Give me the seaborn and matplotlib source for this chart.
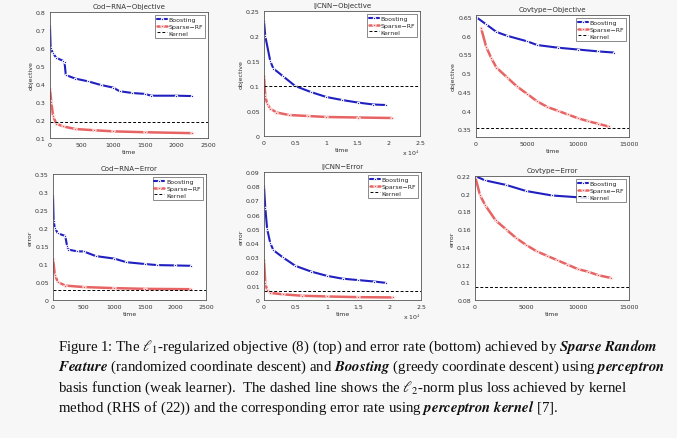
import numpy as np
import pandas as pd
import matplotlib
matplotlib.use("Agg")
import matplotlib.pyplot as plt
import seaborn as sns

sns.set_style("white")
plt.rcParams['font.family'] = ['DejaVu Sans']
plt.rcParams['mathtext.fontset'] = 'stix'

# ---- data ----
cod_obj_boost_t = [0, 10, 50, 100, 200, 230, 250, 400, 600, 800, 1000, 1100, 1300, 1500, 1600, 2000, 2250]
cod_obj_boost_v = [0.72, 0.6, 0.57, 0.545, 0.53, 0.52, 0.45, 0.43, 0.415, 0.395, 0.38, 0.36, 0.35, 0.345, 0.335, 0.335, 0.333]
cod_obj_rf_t = [0, 20, 50, 100, 200, 400, 700, 1000, 1500, 2250]
cod_obj_rf_v = [0.37, 0.3, 0.22, 0.18, 0.165, 0.15, 0.143, 0.137, 0.132, 0.127]
cod_obj_kernel = 0.187

ij_obj_boost_t = [0, 200, 1000, 1500, 3000, 5000, 7500, 10000, 12500, 15000, 17500, 19500]
ij_obj_boost_v = [0.23, 0.2, 0.15, 0.135, 0.12, 0.1, 0.088, 0.078, 0.072, 0.067, 0.063, 0.062]
ij_obj_rf_t = [0, 200, 500, 1000, 2000, 4000, 7000, 10000, 15000, 20500]
ij_obj_rf_v = [0.12, 0.08, 0.065, 0.055, 0.047, 0.042, 0.04, 0.038, 0.037, 0.036]
ij_obj_kernel = 0.1

cov_obj_boost_t = [0, 1000, 2000, 3000, 5000, 6000, 8000, 10000, 12000, 13500]
cov_obj_boost_v = [0.65, 0.63, 0.61, 0.6, 0.585, 0.575, 0.568, 0.563, 0.558, 0.555]
cov_obj_rf_t = [500, 1000, 1500, 2000, 3000, 4000, 5000, 6000, 7000, 8000, 9000, 10000, 11000, 12000, 13000]
cov_obj_rf_v = [0.62, 0.57, 0.54, 0.515, 0.49, 0.465, 0.445, 0.425, 0.41, 0.4, 0.39, 0.38, 0.372, 0.365, 0.358]
cov_obj_kernel = 0.355

cod_err_boost_t = [0, 10, 30, 80, 200, 230, 250, 400, 500, 700, 1000, 1200, 1500, 1700, 2000, 2250]
cod_err_boost_v = [0.29, 0.22, 0.2, 0.185, 0.178, 0.15, 0.14, 0.135, 0.135, 0.122, 0.115, 0.105, 0.1, 0.097, 0.096, 0.095]
cod_err_rf_t = [0, 30, 80, 200, 500, 1000, 1500, 2250]
cod_err_rf_v = [0.115, 0.07, 0.05, 0.04, 0.036, 0.033, 0.031, 0.03]
cod_err_kernel = 0.027

ij_err_boost_t = [0, 200, 500, 1000, 1500, 3000, 5000, 7500, 10000, 12500, 15000, 17500, 19500]
ij_err_boost_v = [0.08, 0.065, 0.05, 0.04, 0.035, 0.03, 0.024, 0.02, 0.017, 0.015, 0.014, 0.013, 0.012]
ij_err_rf_t = [0, 200, 500, 1000, 3000, 6000, 10000, 15000, 20500]
ij_err_rf_v = [0.028, 0.012, 0.007, 0.005, 0.004, 0.003, 0.0025, 0.002, 0.0018]
ij_err_kernel = 0.0065

cov_err_boost_t = [0, 1000, 3000, 5000, 7500, 10000, 11000]
cov_err_boost_v = [0.22, 0.215, 0.21, 0.203, 0.198, 0.196, 0.195]
cov_err_rf_t = [0, 500, 1000, 2000, 3000, 4000, 5000, 6000, 7000, 8000, 9000, 10000, 11000, 12000, 13200]
cov_err_rf_v = [0.22, 0.198, 0.187, 0.17, 0.16, 0.15, 0.142, 0.135, 0.13, 0.125, 0.12, 0.115, 0.112, 0.108, 0.105]
cov_err_kernel = 0.095

W, H = 677, 439
fig = plt.figure(figsize=(W / 100, H / 100), dpi=100, facecolor="#f7f7f7")

def box(x0, y0, x1, y1):
    return [x0 / W, 1 - y1 / H, (x1 - x0) / W, (y1 - y0) / H]

panels = [
    (box(50, 13, 208, 139), "Cod\u2212RNA\u2212Objective", "objective",
     cod_obj_boost_t, cod_obj_boost_v, cod_obj_rf_t, cod_obj_rf_v, cod_obj_kernel,
     (0, 2500), (0.1, 0.8), np.arange(0, 2501, 500), np.arange(0.1, 0.81, 0.1), False),
    (box(264, 12, 420, 137), "IJCNN\u2212Objective", "objective",
     ij_obj_boost_t, ij_obj_boost_v, ij_obj_rf_t, ij_obj_rf_v, ij_obj_kernel,
     (0, 25000), (0, 0.25), np.arange(0, 25001, 5000), np.arange(0, 0.251, 0.05), True),
    (box(476, 16, 629, 138), "Covtype\u2212Objective", "objective",
     cov_obj_boost_t, cov_obj_boost_v, cov_obj_rf_t, cov_obj_rf_v, cov_obj_kernel,
     (0, 15000), (0.33, 0.655), np.arange(0, 15001, 5000), np.arange(0.35, 0.651, 0.05), False),
    (box(53, 175, 206, 301), "Cod\u2212RNA\u2212Error", "error",
     cod_err_boost_t, cod_err_boost_v, cod_err_rf_t, cod_err_rf_v, cod_err_kernel,
     (0, 2500), (0, 0.35), np.arange(0, 2501, 500), np.arange(0, 0.351, 0.05), False),
    (box(264, 173, 421, 301), "IJCNN\u2212Error", "error",
     ij_err_boost_t, ij_err_boost_v, ij_err_rf_t, ij_err_rf_v, ij_err_kernel,
     (0, 25000), (0, 0.09), np.arange(0, 25001, 5000), np.arange(0, 0.091, 0.01), True),
    (box(475, 177, 629, 301), "Covtype\u2212Error", "error",
     cov_err_boost_t, cov_err_boost_v, cov_err_rf_t, cov_err_rf_v, cov_err_kernel,
     (0, 15000), (0.08, 0.22), np.arange(0, 15001, 5000), np.arange(0.08, 0.221, 0.02), False),
]

fs = 4.5
for rect, title, ylab, bt, bv, rt, rv, kern, xl, yl, xt, yt, sci in panels:
    ax = fig.add_axes(rect)
    ax.set_facecolor("white")
    sns.lineplot(x=bt, y=bv, ax=ax, color="#2020c0", marker=".", markersize=3.5,
                 lw=1.5, label="Boosting")
    sns.lineplot(x=rt, y=rv, ax=ax, color="#e03030", marker="*", markersize=3.5,
                 lw=1.8, alpha=0.75, label="Sparse\u2212RF")
    ax.axhline(kern, color="black", ls=(0, (3, 2)), lw=0.7, label="Kernel")
    ax.set_xlim(*xl)
    ax.set_ylim(*yl)
    ax.set_xticks(xt)
    ax.set_yticks(yt)
    if sci:
        ax.set_xticklabels([f"{v/1e4:g}" for v in xt])
        ax.text(1.0, -0.09, r"x 10$^4$", transform=ax.transAxes, fontsize=fs,
                ha="right", va="top", color="#333333")
    else:
        ax.set_xticklabels([f"{v:g}" for v in xt])
    ax.set_yticklabels([f"{v:g}" for v in np.round(yt, 3)])
    ax.tick_params(labelsize=fs, length=2, width=0.5, pad=1, colors="#333333")
    ax.set_title(title, fontsize=fs + 0.5, pad=3, color="#333333")
    ax.set_xlabel("time", fontsize=fs, labelpad=1, color="#333333")
    ax.set_ylabel(ylab, fontsize=fs, labelpad=2, color="#333333")
    for s in ax.spines.values():
        s.set_linewidth(0.6)
        s.set_color("#555555")
    leg = ax.legend(loc="upper right", fontsize=fs, frameon=True, fancybox=False,
                    borderpad=0.3, labelspacing=0.2, handlelength=1.6, handletextpad=0.3)
    leg.get_frame().set_edgecolor("#555555")
    leg.get_frame().set_linewidth(0.6)

cap = dict(fontsize=10.7, family="Liberation Serif", color="#111111", ha="left", va="baseline")
lines = [
    r"Figure 1: The $\ell_1$-regularized objective (8) (top) and error rate (bottom) achieved by $\mathbfit{Sparse\ Random}$",
    r"$\mathbfit{Feature}$ (randomized coordinate descent) and $\mathbfit{Boosting}$ (greedy coordinate descent) using $\mathbfit{perceptron}$",
    r"basis function (weak learner).  The dashed line shows the $\ell_2$-norm plus loss achieved by kernel",
    r"method (RHS of (22)) and the corresponding error rate using $\mathbfit{perceptron\ kernel}$ [7].",
]
ys = [351, 371, 392, 412]
for s, y in zip(lines, ys):
    fig.text(58 / W, 1 - y / H, s, **cap)

fig.savefig("out.png", dpi=100, facecolor=fig.get_facecolor())
